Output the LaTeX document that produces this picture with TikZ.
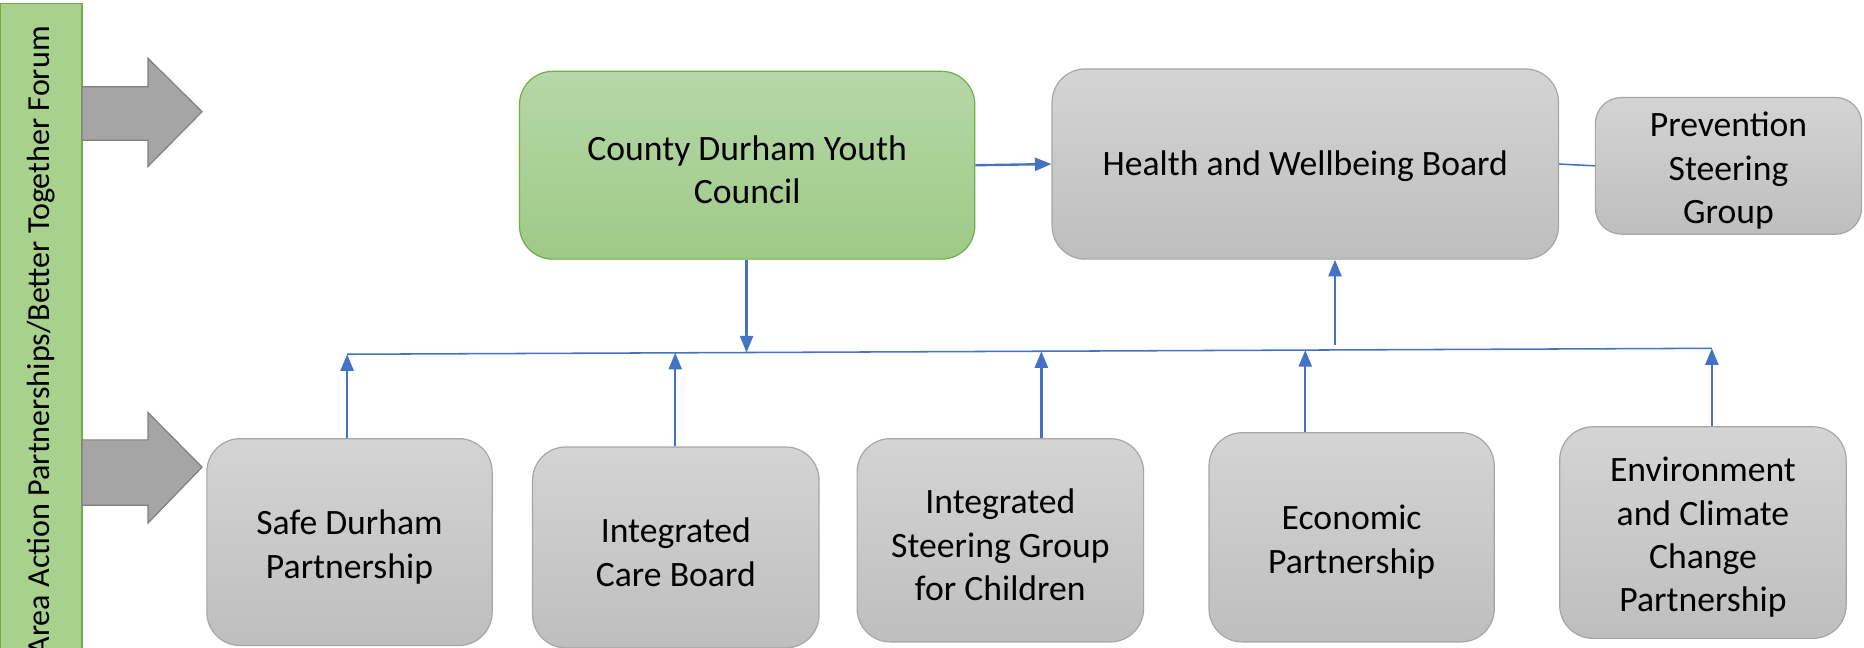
\documentclass[tikz,border=0pt]{standalone}
\usepackage{fontspec}
\setmainfont{Carlito}
\usetikzlibrary{arrows.meta}
\definecolor{arrblue}{HTML}{4472C4}
\definecolor{boxtop}{HTML}{D4D4D4}
\definecolor{boxbot}{HTML}{BEBEBE}
\definecolor{boxline}{HTML}{A6A6A6}
\definecolor{gtop}{HTML}{B6D7A8}
\definecolor{gbot}{HTML}{9ECA86}
\definecolor{gline}{HTML}{70AD47}
\definecolor{barfill}{HTML}{A9D18E}
\definecolor{blockfill}{HTML}{A5A5A5}
\definecolor{blockline}{HTML}{7F7F7F}
\begin{document}
\begin{tikzpicture}[x=1pt,y=1pt,
  graybox/.style={draw=boxline, line width=1pt, top color=boxtop, bottom color=boxbot,
    rounded corners=28pt, inner sep=0pt},
  greenbox/.style={graybox, draw=gline, top color=gtop, bottom color=gbot},
  boxtext/.style={align=center, inner sep=0pt, font=\fontsize{30}{36.5}\selectfont},
  arr/.style={draw=arrblue, line width=2pt, -{Triangle[width=11pt,length=14pt]}},
  thinline/.style={draw=arrblue, line width=1.3pt},
  blockarrow/.style={fill=blockfill, draw=blockline, line width=1pt}
]
\useasboundingbox (0,0) rectangle (1568,-545);
\clip (0,0) rectangle (1568,-545);

% left bar
\path[fill=barfill, draw=gline, line width=1pt] (0.5,-3) rectangle (69,-560);
\node[rotate=90, anchor=east, inner sep=0pt, font=\fontsize{27}{32}\selectfont] (bartext) at (35,-22)
  {Area Action Partnerships/Better Together Forum};

% block arrows
\path[blockarrow] (69,-73) -- (124.5,-73) -- (124.5,-49) -- (170,-94) -- (124.5,-140) -- (124.5,-118) -- (69,-118) -- cycle;
\path[blockarrow] (69,-370) -- (124.5,-370) -- (124.5,-347) -- (170,-393) -- (124.5,-440) -- (124.5,-425) -- (69,-425) -- cycle;

% top row
\node[greenbox, minimum width=383pt, minimum height=158pt] (yc) at (628.5,-139) {};
\node[boxtext] (ycT) at ([yshift=-4pt]yc.center) {County Durham Youth\\Council};
\node[graybox, minimum width=426pt, minimum height=160pt] (hwb) at (1098,-138) {};
\node[boxtext] (hwbT) at ([yshift=-2pt]hwb.center) {Health and Wellbeing Board};
\node[graybox, rounded corners=22pt, minimum width=224pt, minimum height=115pt] (psg) at (1454,-139.5) {};
\node[boxtext] (psgT) at ([yshift=-4pt]psg.center) {Prevention\\Steering\\Group};

% bottom row
\node[graybox, minimum width=240pt, minimum height=174pt] (sdp) at (294,-456) {};
\node[boxtext] (sdpT) at ([yshift=-4pt]sdp.center) {Safe Durham\\Partnership};
\node[graybox, minimum width=241pt, minimum height=169pt] (icb) at (568.5,-460.5) {};
\node[boxtext] (icbT) at ([yshift=-4pt]icb.center) {Integrated\\Care Board};
\node[graybox, minimum width=241pt, minimum height=171pt] (isg) at (841.5,-454.5) {};
\node[boxtext] (isgT) at ([yshift=-4pt]isg.center) {Integrated\\Steering Group\\for Children};
\node[graybox, minimum width=240pt, minimum height=176pt] (ecp) at (1137,-452) {};
\node[boxtext] (ecpT) at ([yshift=-4pt]ecp.center) {Economic\\Partnership};
\node[graybox, minimum width=241pt, minimum height=178pt] (env) at (1432.5,-448) {};
\node[boxtext] (envT) at ([yshift=-4pt]env.center) {Environment\\and Climate\\Change\\Partnership};

% horizontal bus line
\coordinate (hl) at (292,-298);
\coordinate (hr) at (1440,-293);
\coordinate (t2) at (568,-296.8);
\coordinate (ty) at (628,-296.5);
\coordinate (t3) at (876,-295.5);
\coordinate (t4) at (1098,-294.5);
\coordinate (hb) at (1123,-290);
\draw[thinline] (hl) -- (hr);

% connectors
\draw[arr] (sdp.north -| hl) -- (hl);
\draw[arr] (icb.north -| t2) -- (t2);
\draw[arr] (isg.north -| t3) -- (t3);
\draw[arr] (ecp.north -| t4) -- (t4);
\draw[arr] (env.north -| hr) -- (hr);
\draw[arr] (yc.south -| ty) -- (ty);
\draw[arr] (hb) -- (hwb.south -| hb);
\draw[arr] (yc.east) -- (hwb.west);
\draw[thinline] (hwb.east) -- (psg.west);
\end{tikzpicture}
\end{document}
